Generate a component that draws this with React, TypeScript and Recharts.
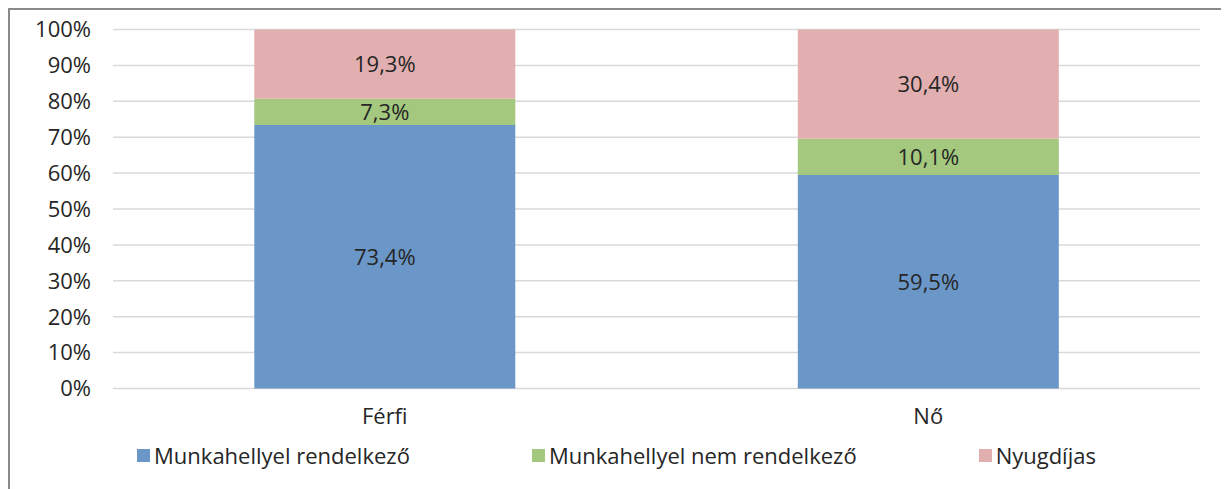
import React from 'react';
import { Bar, BarChart, CartesianGrid, LabelList, XAxis, YAxis } from 'recharts';

const categories = ['Férfi', 'Nő'];
const employed = [73.4, 59.5];
const unemployed = [7.3, 10.1];
const pensioner = [19.3, 30.4];
const yTicks = [0, 10, 20, 30, 40, 50, 60, 70, 80, 90, 100];

const series = [
  { key: 'employed', name: 'Munkahellyel rendelkező', color: '#6a97c8' },
  { key: 'unemployed', name: 'Munkahellyel nem rendelkező', color: '#a3c87e' },
  { key: 'pensioner', name: 'Nyugdíjas', color: '#e1afaf' },
];

const data = categories.map((name, i) => ({
  name,
  employed: employed[i],
  unemployed: unemployed[i],
  pensioner: pensioner[i],
}));

const font = '"Open Sans", sans-serif';
const textColor = '#262626';
const fontSize = 22;

const fmt = (v: number) => `${v.toFixed(1).replace('.', ',')}%`;

const App: React.FC = () => (
  <div
    style={{
      position: 'relative',
      width: 1219,
      height: 479,
      borderTop: '2px solid #8a8a8a',
      borderLeft: '2px solid #8a8a8a',
      fontFamily: font,
    }}
  >
    <BarChart
      width={1219}
      height={479}
      data={data}
      margin={{ top: 19.5, right: 29, bottom: 70.5, left: 0 }}
      barCategoryGap="26%"
    >
      <CartesianGrid vertical={false} stroke="#d9d9d9" strokeWidth={1.5} />
      <XAxis
        dataKey="name"
        axisLine={false}
        tickLine={false}
        tickMargin={14}
        height={30}
        tick={{ fill: textColor, fontSize, fontFamily: font }}
      />
      <YAxis
        domain={[0, 100]}
        ticks={yTicks}
        tickFormatter={(v: number) => `${v}%`}
        axisLine={false}
        tickLine={false}
        tickMargin={16}
        width={103}
        interval={0}
        tick={{ fill: textColor, fontSize, fontFamily: font }}
      />
      {series.map((s) => (
        <Bar key={s.key} dataKey={s.key} name={s.name} stackId="a" fill={s.color} isAnimationActive={false}>
          <LabelList
            dataKey={s.key}
            position="center"
            formatter={(v: any) => fmt(Number(v))}
            style={{ fill: textColor, fontSize, fontFamily: font }}
          />
        </Bar>
      ))}
    </BarChart>
    <div
      style={{
        position: 'absolute',
        top: 433,
        left: -3,
        width: 1219,
        display: 'flex',
        justifyContent: 'center',
        gap: 122,
        fontSize,
        lineHeight: '24px',
        color: textColor,
      }}
    >
      {series.map((s) => (
        <div key={s.key} style={{ display: 'flex', alignItems: 'center' }}>
          <span style={{ display: 'inline-block', width: 13, height: 13, background: s.color, marginRight: 4 }} />
          <span>{s.name}</span>
        </div>
      ))}
    </div>
  </div>
);

export default App;
